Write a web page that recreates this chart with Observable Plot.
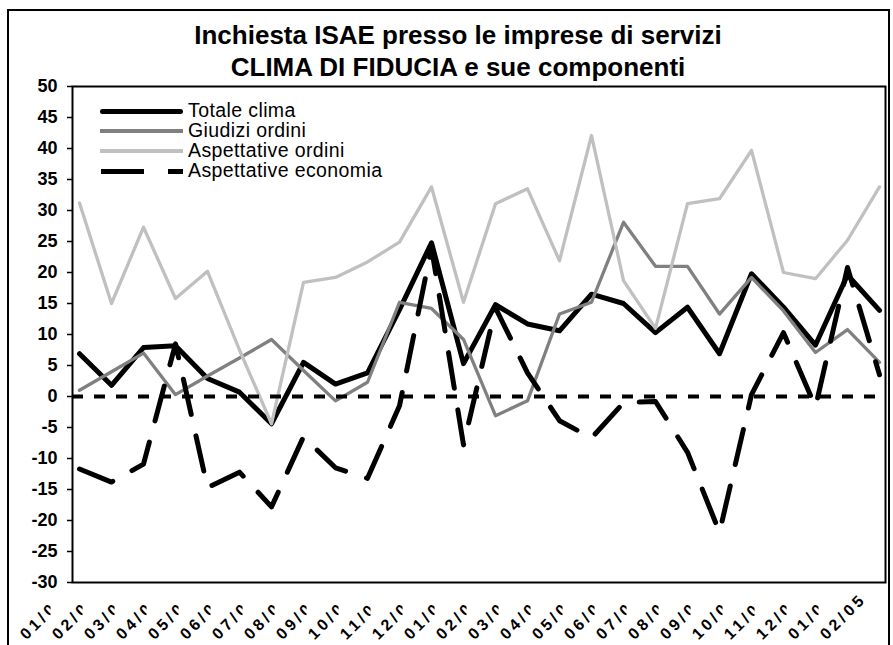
<!DOCTYPE html>
<html><head><meta charset="utf-8">
<script src="https://cdn.jsdelivr.net/npm/d3@7"></script>
<script src="https://cdn.jsdelivr.net/npm/@observablehq/plot@0.6"></script>
<style>
html,body{margin:0;padding:0;background:#fff;width:893px;height:645px;overflow:hidden;font-family:"Liberation Sans",Arial,sans-serif;}
#wrap{position:relative;width:893px;height:645px;overflow:hidden;}
#border{position:absolute;left:7px;top:9px;width:883px;height:700px;border:2px solid #000;box-sizing:border-box;}
.title{position:absolute;left:0;width:916px;text-align:center;font-weight:bold;font-size:26px;line-height:32px;color:#000;white-space:nowrap;}
#chart{position:absolute;left:0;top:80px;}
#legend{position:absolute;left:0;top:0;width:0;height:0;}
.lrow{position:absolute;left:0;height:20px;width:420px;}
.ltext{position:absolute;left:188px;top:0;font-size:19.5px;line-height:19px;height:19px;letter-spacing:0.4px;color:#000;white-space:nowrap;}
.sw{position:absolute;}
</style></head>
<body><div id="wrap">
<div id="border"></div>
<div class="title" style="top:19px">Inchiesta ISAE presso le imprese di servizi</div>
<div class="title" style="top:51px">CLIMA DI FIDUCIA e sue componenti</div>
<div id="chart"></div>
<div id="legend"></div>
</div>
<script>
// categories (month/year)
const months = ["01/03","02/03","03/03","04/03","05/03","06/03","07/03","08/03","09/03","10/03","11/03","12/03",
                "01/04","02/04","03/04","04/04","05/04","06/04","07/04","08/04","09/04","10/04","11/04","12/04",
                "01/05","02/05"];
const seriesNames = ["Totale clima","Giudizi ordini","Aspettative ordini","Aspettative economia"];
const totaleClima = [6.9, 1.8, 7.9, 8.2, 2.9, 0.7, -4.4, 5.5, 2.0, 3.8, 14.0, 24.8, 5.3, 14.8, 11.7, 10.6, 16.5, 15.0, 10.3, 14.4, 6.9, 19.8, 14.4, 8.3, 19.6, 13.9];
const giudiziOrdini = [1.0, 4.0, 7.0, 0.3, 3.3, 6.2, 9.2, 4.2, -0.7, 2.3, 15.2, 14.2, 9.2, -3.1, -0.7, 13.3, 15.2, 28.1, 21.0, 21.0, 13.3, 19.2, 13.8, 7.1, 10.8, 5.5];
const aspettativeOrdini = [31.2, 15.0, 27.3, 15.8, 20.2, 7.5, -4.4, 18.4, 19.2, 21.7, 24.9, 33.8, 15.2, 31.1, 33.5, 21.9, 42.1, 18.7, 11.0, 31.1, 31.9, 39.7, 20.0, 19.0, 25.2, 33.8];
const aspettativeEconomia = [-11.7, -13.8, -10.9, 8.5, -14.7, -12.2, -17.8, -6.5, -11.5, -13.2, -1.5, 24.0, -7.8, 14.3, 3.8, -3.9, -6.7, -1.0, -0.8, -9.0, -21.9, 0.3, 10.3, -1.7, 20.8, 3.5];
const yTicks = d3.range(-30, 51, 5);

const seriesValues = [totaleClima, giudiziOrdini, aspettativeOrdini, aspettativeEconomia];
const seriesStyle = [
  {stroke:"#000000", strokeWidth:5},
  {stroke:"#808080", strokeWidth:3.3},
  {stroke:"#c0c0c0", strokeWidth:3.3},
  {stroke:"#000000", strokeWidth:5, strokeDasharray:"36,22"}
];
const rows = (vals, name) => months.map((m, i) => ({m, v: vals[i], s: name}));

const lineMarks = seriesValues.map((vals, k) =>
  Plot.line(rows(vals, seriesNames[k]), {x: "m", y: "v", strokeLinejoin: "round", ...seriesStyle[k]}));

const chart = Plot.plot({
  width: 893, height: 565,
  marginLeft: 72, marginRight: 8, marginTop: 6, marginBottom: 63,
  x: {type: "point", domain: months, padding: 0, axis: null},
  y: {domain: [-30, 50], axis: null},
  style: {fontFamily: "'Liberation Sans', Arial, sans-serif", background: "transparent", overflow: "visible", color: "#000"},
  marks: [
    Plot.axisY({ticks: yTicks, tickSize: 5, tickPadding: 10, fontSize: 18, fontWeight: "bold",
                label: null, tickFormat: d => String(d), strokeWidth: 1.5}),
    ...lineMarks,
    Plot.ruleY([0], {stroke: "#000", strokeWidth: 4, strokeDasharray: "11,11"}),
    Plot.frame({stroke: "#000", strokeWidth: 2}),
    Plot.text(months, {x: d => d, frameAnchor: "bottom", dx: -53, dy: 58, rotate: -45,
                       textAnchor: "start", lineAnchor: "bottom", fontWeight: "bold", fontSize: 16, fill: "#000"})
  ]
});
document.getElementById("chart").appendChild(chart);

// clip month labels like the reference (each one cut by the next category)
const svg = d3.select(chart);
let defs = svg.select("defs");
if (defs.empty()) defs = svg.insert("defs", ":first-child");
const labelTexts = svg.selectAll("text").filter(function(){ return /^\d\d\/\d\d$/.test(this.textContent.trim()); });
const n = labelTexts.size();
labelTexts.each(function(d, i){
  d3.select(this).style("letter-spacing", "3.5px");
  if (i === n - 1) return;
  const tr = (this.getAttribute("transform") || "").match(/translate\(\s*([-\d.]+)[ ,]+([-\d.]+)\s*\)/);
  if (!tr) return;
  const tx = +tr[1], ty = +tr[2];
  const id = "lclip" + i;
  defs.append("clipPath").attr("id", id).attr("clipPathUnits", "userSpaceOnUse")
    .append("rect").attr("x", tx - 300).attr("y", ty - 300).attr("width", 324).attr("height", 600);
  const g = document.createElementNS("http://www.w3.org/2000/svg", "g");
  g.setAttribute("clip-path", `url(#${id})`);
  this.parentNode.insertBefore(g, this);
  g.appendChild(this);
});

// legend
const legendY = [111, 131, 151, 171];
const leg = document.getElementById("legend");
seriesNames.forEach((name, k) => {
  const row = document.createElement("div");
  row.className = "lrow";
  row.style.top = (legendY[k] - 10) + "px";
  const st = seriesStyle[k];
  const h = st.strokeWidth;
  const addSw = (x0, x1) => {
    const s = document.createElement("div");
    s.className = "sw";
    s.style.left = x0 + "px"; s.style.width = (x1 - x0) + "px";
    s.style.top = (10 - h / 2) + "px"; s.style.height = h + "px";
    s.style.background = st.stroke;
    if (k === 0) s.style.borderRadius = "3px";
    row.appendChild(s);
  };
  if (st.strokeDasharray) { addSw(101, 144); addSw(168, 183); } else { addSw(100, 183); }
  const t = document.createElement("div");
  t.className = "ltext";
  t.style.top = "0px";
  t.textContent = name;
  row.appendChild(t);
  leg.appendChild(row);
});
</script>
</body></html>
